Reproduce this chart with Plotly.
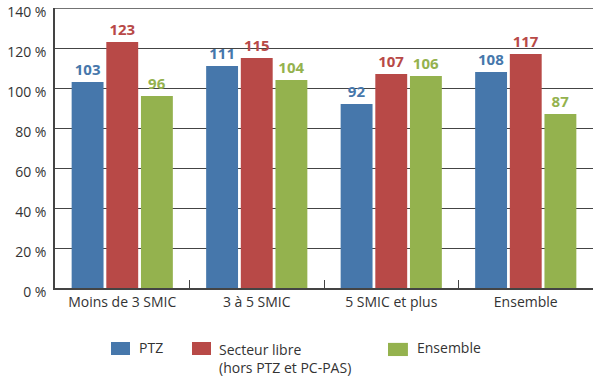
import plotly.graph_objects as go

categories = ["Moins de 3 SMIC", "3 à 5 SMIC", "5 SMIC et plus", "Ensemble"]
ptz = [103, 111, 92, 108]
secteur_libre = [123, 115, 107, 117]
ensemble = [96, 104, 106, 87]
y_ticks = [0, 20, 40, 60, 80, 100, 120, 140]
y_tick_labels = [f"{v} %" for v in y_ticks]

series = [
    ("PTZ", ptz, "#4677ab"),
    ("Secteur libre<br>(hors PTZ et PC-PAS)", secteur_libre, "#b84947"),
    ("Ensemble", ensemble, "#94b24e"),
]

FONT = "Open Sans"
TXT = "#333333"
LINE = "#444444"

fig = go.Figure()
for name, vals, color in series:
    fig.add_trace(go.Bar(
        x=categories, y=vals, name=name,
        marker=dict(color=color, line=dict(width=0)),
        text=[str(v) for v in vals], textposition="outside",
        textfont=dict(family=FONT, size=15, color=color, weight="bold"),
        cliponaxis=False, showlegend=False,
    ))

# custom legend (paper coordinates)
legend_boxes = [(0.1041, 0.1394, -0.2393, -0.1929),
                (0.2546, 0.2900, -0.2393, -0.1929),
                (0.6190, 0.6560, -0.2430, -0.1960)]
legend_text = [(0.1524, -0.214, "middle"),
               (0.3010, -0.1786, "top"),
               (0.6690, -0.214, "middle")]
for (name, vals, color), (x0, x1, y0, y1), (tx, ty, ya) in zip(series, legend_boxes, legend_text):
    fig.add_shape(type="rect", xref="paper", yref="paper", x0=x0, x1=x1, y0=y0, y1=y1,
                  fillcolor=color, line=dict(width=0))
    fig.add_annotation(xref="paper", yref="paper", x=tx, y=ty, xanchor="left", yanchor=ya,
                       text=name, showarrow=False, align="left",
                       font=dict(family=FONT, size=14, color=TXT))

# top gridline at the upper end of the axis range
fig.add_shape(type="line", xref="paper", yref="y", x0=0, x1=1, y0=y_ticks[-1], y1=y_ticks[-1],
              line=dict(color=LINE, width=1.3), layer="below")

fig.update_layout(
    width=600, height=377,
    margin=dict(l=55, r=7, t=8, b=89, autoexpand=False),
    paper_bgcolor="white", plot_bgcolor="white",
    barmode="group", bargap=0.227, bargroupgap=0.08,
    font=dict(family=FONT, size=14, color=TXT),
    showlegend=False,
)
fig.update_xaxes(
    showline=True, linecolor=LINE, linewidth=1.5,
    ticks="inside", tickson="boundaries", ticklen=8, tickcolor=LINE,
    tickfont=dict(family=FONT, size=14, color=TXT),
    showgrid=False,
)
fig.update_yaxes(
    range=[0, 140], tickvals=y_ticks, ticktext=y_tick_labels,
    showgrid=True, gridcolor=LINE, gridwidth=1.3,
    showline=True, linecolor=LINE, linewidth=1.5,
    zeroline=False, ticks="", ticklabelstandoff=4, ticklabeloverflow="allow",
    ticklabelshift=4,
    tickfont=dict(family=FONT, size=14, color=TXT),
)

fig.write_html("out.html", post_script="document.body.style.margin='0';",
               config={"displayModeBar": False})
